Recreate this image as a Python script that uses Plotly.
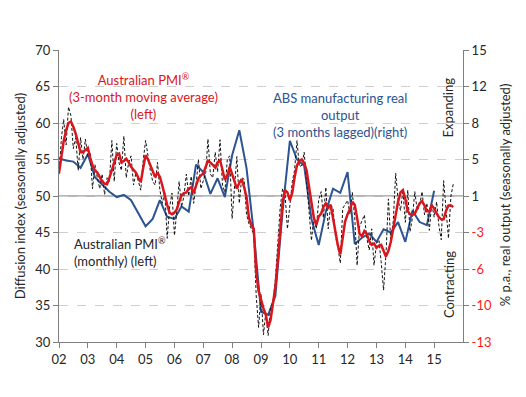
import pandas as pd
import plotly.graph_objects as go

# ---------------- data ----------------
pmi_start = "2002-01-01"
pmi_monthly = [
    53.0, 58.0, 60.5, 57.0, 62.2, 61.0, 56.5, 58.0, 53.5, 58.0, 55.0, 57.8,
    55.5, 55.8, 51.0, 54.3, 52.5, 51.0, 53.0, 50.2, 52.5, 52.0, 57.6, 52.0,
    57.2, 54.5, 53.5, 58.2, 52.5, 54.6, 55.5, 51.5, 53.2, 52.0, 50.8, 54.8,
    57.6, 55.5, 53.5, 52.0, 51.5, 54.6, 50.8, 49.0, 50.6, 44.2, 48.5, 50.4,
    44.6, 48.0, 52.0, 48.5, 50.0, 53.0, 50.0, 52.7, 49.0, 51.5, 55.0, 51.0,
    52.3, 53.2, 57.8, 53.0, 52.5, 56.0, 53.3, 57.7, 51.5, 50.5, 55.0, 55.5,
    46.9, 51.8, 55.4, 49.0, 52.5, 52.3, 47.5, 46.2, 45.5, 44.8, 36.3, 32.0,
    36.5, 31.0, 34.0, 30.9, 34.8, 35.5, 38.5, 43.0, 48.5, 51.0, 50.2, 45.5,
    48.6, 52.0, 53.5, 57.6, 54.0, 54.2, 56.0, 51.5, 47.0, 43.9, 47.1, 45.5,
    49.5, 50.6, 47.0, 51.2, 45.5, 48.8, 48.3, 44.5, 43.0, 40.8, 48.3, 48.9,
    49.4, 47.5, 50.5, 47.0, 40.5, 45.8, 46.5, 47.4, 44.2, 42.6, 45.5, 40.5,
    43.5, 44.0, 41.0, 37.1, 42.0, 49.6, 43.9, 46.5, 53.1, 49.5, 48.0, 50.8,
    46.4, 50.8, 45.1, 47.0, 50.6, 48.0, 48.7, 50.6, 47.4, 49.0, 45.3, 49.0,
    47.1, 49.2, 46.0, 44.0, 52.1, 47.5, 44.2, 50.0, 51.7,
]
pmi_3mma = [
    53.1, 55.5, 57.5, 59.0, 60.0, 60.2, 59.5, 58.5, 57.0, 56.0, 56.0, 56.3,
    56.6, 55.2, 54.2, 53.5, 53.2, 52.6, 52.0, 51.7, 51.6, 52.5, 53.6, 54.8,
    55.6, 55.8, 54.6, 54.8, 55.1, 54.6, 54.0, 53.6, 53.2, 52.5, 51.9, 53.8,
    55.6, 55.0, 54.2, 53.4, 52.6, 53.2, 52.6, 51.4, 50.0, 48.8, 47.7, 47.5,
    47.7, 48.2, 49.2, 50.1, 50.4, 50.5, 51.0, 51.2, 50.4, 51.5, 52.4, 52.8,
    53.1, 54.0, 54.8, 54.6, 54.2, 53.9, 54.6, 54.9, 53.6, 52.2, 52.8, 54.0,
    53.0, 52.0, 51.0, 51.8, 52.3, 51.2, 49.9, 47.0, 46.0, 45.5, 39.5, 37.0,
    35.6, 34.6, 33.8, 32.0, 33.0, 35.3, 37.5, 41.2, 45.0, 49.2, 50.8, 50.5,
    49.4, 50.5, 52.5, 54.2, 54.8, 55.0, 54.5, 53.5, 51.2, 49.0, 47.0, 46.0,
    47.2, 47.6, 48.5, 49.0, 48.4, 48.8, 47.0, 45.2, 43.2, 42.0, 44.5, 46.5,
    47.5, 48.2, 49.2, 48.8, 47.0, 44.8, 44.5, 45.2, 44.8, 43.8, 43.3, 43.5,
    42.9, 43.2, 43.3, 42.4, 41.7, 42.5, 43.7, 45.5, 47.5, 49.2, 50.5, 50.8,
    49.6, 47.9, 47.5, 47.4, 47.6, 48.3, 49.0, 49.3, 48.7, 47.9, 47.9, 48.7,
    48.3, 47.6, 47.1, 46.8, 46.8, 48.0, 48.7, 48.7, 48.5,
]
abs_start = "2002-01-01"
abs_output = [  # % p.a., quarterly, 3 months lagged (right axis)
    4.6, 4.4, 4.3, 3.7, 5.0, 2.8, 2.1, 1.4, 0.9, 1.1, 0.6, -0.7,
    -1.9, -1.2, 0.6, -1.0, -1.2, 0.0, -0.5, 4.0, 3.3, 1.2, 2.7, 0.9,
    4.9, 7.3, 3.7, -2.5, -10.1, -10.4, -8.6, -0.4, 6.3, 4.5, 3.9, -1.2,
    -3.7, -0.5, 1.7, 1.3, 3.3, -3.6, -3.0, -2.6, -3.4, -2.2, -2.5, -1.5,
    -3.4, -0.4, -1.5, -1.8, 1.5,
]
year_ticks = list(range(2002, 2016))
year_labels = ["02", "03", "04", "05", "06", "07", "08", "09", "10",
               "11", "12", "13", "14", "15"]
x_end_year = 2016
left_ticks = [30, 35, 40, 45, 50, 55, 60, 65, 70]
right_tickvals = [-13, -9.5, -6, -2.5, 1, 4.5, 8, 11.5, 15]
right_labels = ["-13", "-10", "-6", "-3", "1", "5", "8", "12", "15"]

# ---------------- figure ----------------
months = pd.date_range(pmi_start, periods=len(pmi_monthly), freq="MS")
months_ma = pd.date_range(pmi_start, periods=len(pmi_3mma), freq="MS")
quarters = pd.date_range(abs_start, periods=len(abs_output), freq="QS")

RED = "#d9161c"
BLUE = "#2c5392"
FONT = "Lato, 'Open Sans', sans-serif"

# page body has an 8px margin: figure is drawn 8px in from the window edge
W, H = 510, 381
L, T = 51, 41.5
PW, PH = 404, 292.5

fig = go.Figure()
fig.add_trace(go.Scatter(x=quarters, y=abs_output, mode="lines", yaxis="y",
                         line=dict(color=BLUE, width=2), showlegend=False))
fig.add_trace(go.Scatter(x=months, y=pmi_monthly, mode="lines", yaxis="y2",
                         line=dict(color="#111111", width=1, dash="3px,2px"),
                         showlegend=False))
fig.add_trace(go.Scatter(x=months_ma, y=pmi_3mma, mode="lines", yaxis="y2",
                         line=dict(color=RED, width=2.5), showlegend=False))

right_text = [f"<span style='color:#ff1a1a'>{t}</span>" if t.startswith("-") else t
              for t in right_labels]

fig.update_layout(
    width=W, height=H,
    margin=dict(l=L, r=W - L - PW, t=T, b=H - T - PH),
    paper_bgcolor="white", plot_bgcolor="white",
    font=dict(family=FONT, size=13, color="#262626"),
    xaxis=dict(
        type="date",
        range=[f"{year_ticks[0]}-01-01", f"{x_end_year}-01-01"],
        tickvals=[f"{y}-01-01" for y in year_ticks], ticktext=year_labels,
        showgrid=False, showline=True, linecolor="#7f7f7f", linewidth=1,
        ticks="outside", ticklen=5, tickcolor="#7f7f7f",
        tickfont=dict(size=13, color="#262626"), zeroline=False,
    ),
    yaxis=dict(
        side="right", range=[-13, 15],
        tickvals=right_tickvals, ticktext=right_text,
        showgrid=True, gridcolor="#cfcfcf", griddash="dash", gridwidth=1,
        showline=True, linecolor="#7f7f7f", linewidth=1,
        ticks="outside", ticklen=5, tickcolor="#7f7f7f",
        tickfont=dict(size=13, color="#262626"), zeroline=False,
    ),
    yaxis2=dict(
        overlaying="y", side="left", range=[30, 70],
        tickvals=left_ticks,
        showgrid=False, showline=True, linecolor="#7f7f7f", linewidth=1,
        ticks="outside", ticklen=5, tickcolor="#7f7f7f",
        tickfont=dict(size=13, color="#262626"), zeroline=False,
    ),
)

# horizontal line at index 50
fig.add_shape(type="line", xref="paper", x0=0, x1=1, yref="y2", y0=50, y1=50,
              line=dict(color="#6f6f6f", width=1.2), layer="below")

# window pixel -> paper coordinates (window px includes the 8px body margin)
def px_x(p):
    return (p - 8 - L) / PW

def px_y(p):
    return (T + PH - (p - 8)) / PH

annos = [
    dict(text="Australian PMI<sup>®</sup><br>(3-month moving average)<br>(left)",
         x=px_x(143), y=px_y(96), color=RED, xanchor="center", angle=0),
    dict(text="ABS manufacturing real<br>output<br>(3 months lagged)(right)",
         x=px_x(340), y=px_y(115), color=BLUE, xanchor="center", angle=0),
    dict(text="Australian PMI<sup>®</sup><br>(monthly) (left)",
         x=px_x(72), y=px_y(252), color="#262626", xanchor="left", angle=0),
    dict(text="Expanding", x=px_x(448), y=px_y(107), color="#262626",
         xanchor="center", angle=-90),
    dict(text="Contracting", x=px_x(449), y=px_y(285), color="#262626",
         xanchor="center", angle=-90),
    dict(text="Diffusion index (seasonally adjusted)", x=px_x(20), y=px_y(196),
         color="#262626", xanchor="center", angle=-90),
    dict(text="% p.a., real output (seasonally adjusted)", x=px_x(505), y=px_y(195),
         color="#262626", xanchor="center", angle=-90),
]
for a in annos:
    fig.add_annotation(text=a["text"], xref="paper", yref="paper", x=a["x"], y=a["y"],
                       xanchor=a["xanchor"], yanchor="middle", showarrow=False,
                       textangle=a["angle"], align="left" if a["xanchor"] == "left" else "center",
                       font=dict(family=FONT, size=13, color=a["color"]))

fig.write_html("out.html")
